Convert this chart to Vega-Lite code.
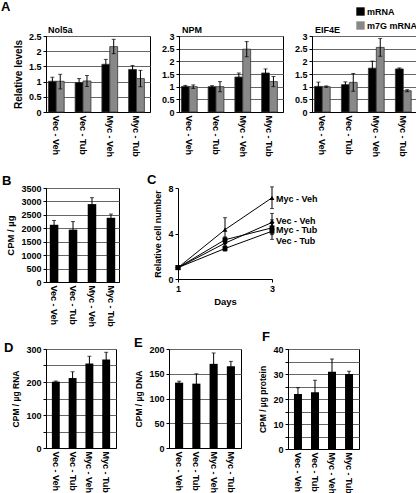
{
  "$schema": "https://vega.github.io/schema/vega-lite/v6.json",
  "padding": {"left": 0, "top": 0, "right": 6, "bottom": 0},
  "datasets": {
    "genes": [
      {"gene": "Nol5a", "cond": "Vec - Veh", "type": "mRNA", "value": 1.01, "lo": 0.89, "hi": 1.14},
      {"gene": "Nol5a", "cond": "Vec - Veh", "type": "m7G mRNA", "value": 1.01, "lo": 0.76, "hi": 1.24},
      {"gene": "Nol5a", "cond": "Vec - Tub", "type": "mRNA", "value": 0.97, "lo": 0.85, "hi": 1.10},
      {"gene": "Nol5a", "cond": "Vec - Tub", "type": "m7G mRNA", "value": 1.02, "lo": 0.84, "hi": 1.20},
      {"gene": "Nol5a", "cond": "Myc - Veh", "type": "mRNA", "value": 1.57, "lo": 1.41, "hi": 1.73},
      {"gene": "Nol5a", "cond": "Myc - Veh", "type": "m7G mRNA", "value": 2.15, "lo": 1.92, "hi": 2.39},
      {"gene": "Nol5a", "cond": "Myc - Tub", "type": "mRNA", "value": 1.40, "lo": 1.27, "hi": 1.53},
      {"gene": "Nol5a", "cond": "Myc - Tub", "type": "m7G mRNA", "value": 1.10, "lo": 0.83, "hi": 1.37},
      {"gene": "NPM", "cond": "Vec - Veh", "type": "mRNA", "value": 1.01, "lo": 0.97, "hi": 1.05},
      {"gene": "NPM", "cond": "Vec - Veh", "type": "m7G mRNA", "value": 1.00, "lo": 0.93, "hi": 1.07},
      {"gene": "NPM", "cond": "Vec - Tub", "type": "mRNA", "value": 1.00, "lo": 0.96, "hi": 1.04},
      {"gene": "NPM", "cond": "Vec - Tub", "type": "m7G mRNA", "value": 1.00, "lo": 0.80, "hi": 1.20},
      {"gene": "NPM", "cond": "Myc - Veh", "type": "mRNA", "value": 1.38, "lo": 1.22, "hi": 1.54},
      {"gene": "NPM", "cond": "Myc - Veh", "type": "m7G mRNA", "value": 2.48, "lo": 2.18, "hi": 2.78},
      {"gene": "NPM", "cond": "Myc - Tub", "type": "mRNA", "value": 1.54, "lo": 1.38, "hi": 1.70},
      {"gene": "NPM", "cond": "Myc - Tub", "type": "m7G mRNA", "value": 1.20, "lo": 1.00, "hi": 1.40},
      {"gene": "EIF4E", "cond": "Vec - Veh", "type": "mRNA", "value": 1.01, "lo": 0.84, "hi": 1.18},
      {"gene": "EIF4E", "cond": "Vec - Veh", "type": "m7G mRNA", "value": 1.00, "lo": 0.97, "hi": 1.03},
      {"gene": "EIF4E", "cond": "Vec - Tub", "type": "mRNA", "value": 1.08, "lo": 0.97, "hi": 1.19},
      {"gene": "EIF4E", "cond": "Vec - Tub", "type": "m7G mRNA", "value": 1.17, "lo": 0.82, "hi": 1.52},
      {"gene": "EIF4E", "cond": "Myc - Veh", "type": "mRNA", "value": 1.73, "lo": 1.45, "hi": 2.01},
      {"gene": "EIF4E", "cond": "Myc - Veh", "type": "m7G mRNA", "value": 2.55, "lo": 2.20, "hi": 2.90},
      {"gene": "EIF4E", "cond": "Myc - Tub", "type": "mRNA", "value": 1.70, "lo": 1.66, "hi": 1.74},
      {"gene": "EIF4E", "cond": "Myc - Tub", "type": "m7G mRNA", "value": 0.84, "lo": 0.80, "hi": 0.88}
    ],
    "single": [
      {"panel": "B", "cond": "Vec - Veh", "value": 2130, "lo": 1970, "hi": 2290},
      {"panel": "B", "cond": "Vec - Tub", "value": 1950, "lo": 1650, "hi": 2250},
      {"panel": "B", "cond": "Myc - Veh", "value": 2900, "lo": 2660, "hi": 3140},
      {"panel": "B", "cond": "Myc - Tub", "value": 2390, "lo": 2250, "hi": 2530},
      {"panel": "D", "cond": "Vec - Veh", "value": 201, "lo": 199, "hi": 203},
      {"panel": "D", "cond": "Vec - Tub", "value": 212, "lo": 193, "hi": 231},
      {"panel": "D", "cond": "Myc - Veh", "value": 256, "lo": 234, "hi": 278},
      {"panel": "D", "cond": "Myc - Tub", "value": 268, "lo": 246, "hi": 290},
      {"panel": "E", "cond": "Vec - Veh", "value": 132, "lo": 129, "hi": 135},
      {"panel": "E", "cond": "Vec - Tub", "value": 130, "lo": 110, "hi": 150},
      {"panel": "E", "cond": "Myc - Veh", "value": 170, "lo": 148, "hi": 192},
      {"panel": "E", "cond": "Myc - Tub", "value": 165, "lo": 155, "hi": 175},
      {"panel": "F", "cond": "Vec - Veh", "value": 22.0, "lo": 19.5, "hi": 24.5},
      {"panel": "F", "cond": "Vec - Tub", "value": 22.7, "lo": 17.9, "hi": 27.5},
      {"panel": "F", "cond": "Myc - Veh", "value": 30.9, "lo": 25.8, "hi": 36.0},
      {"panel": "F", "cond": "Myc - Tub", "value": 30.0, "lo": 29.0, "hi": 31.1}
    ],
    "growth": [
      {"series": "Myc - Veh", "day": 1, "value": 1.0, "lo": null, "hi": null},
      {"series": "Myc - Veh", "day": 2, "value": 4.34, "lo": 3.3, "hi": 5.39},
      {"series": "Myc - Veh", "day": 3, "value": 7.14, "lo": 6.19, "hi": 8.1},
      {"series": "Vec - Veh", "day": 1, "value": 1.0, "lo": null, "hi": null},
      {"series": "Vec - Veh", "day": 2, "value": 3.15, "lo": 2.9, "hi": 3.4},
      {"series": "Vec - Veh", "day": 3, "value": 4.97, "lo": 4.2, "hi": 5.77},
      {"series": "Myc - Tub", "day": 1, "value": 1.0, "lo": null, "hi": null},
      {"series": "Myc - Tub", "day": 2, "value": 3.45, "lo": 3.2, "hi": 3.7},
      {"series": "Myc - Tub", "day": 3, "value": 4.5, "lo": 3.9, "hi": 5.2},
      {"series": "Vec - Tub", "day": 1, "value": 1.0, "lo": null, "hi": null},
      {"series": "Vec - Tub", "day": 2, "value": 2.68, "lo": 2.45, "hi": 2.9},
      {"series": "Vec - Tub", "day": 3, "value": 4.2, "lo": 3.48, "hi": 4.9}
    ],
    "growthLabels": [
      {"series": "Myc - Veh", "pos": 7.05},
      {"series": "Vec - Veh", "pos": 5.13},
      {"series": "Myc - Tub", "pos": 4.27},
      {"series": "Vec - Tub", "pos": 3.38}
    ]
  },
  "config": {
    "font": "Liberation Sans",
    "view": {"stroke": "black", "strokeWidth": 1},
    "axis": {
      "labelFont": "Liberation Sans", "labelFontWeight": "bold", "labelFontSize": 9, "labelColor": "black",
      "titleFont": "Liberation Sans", "titleFontWeight": "bold", "titleFontSize": 9.5, "titleColor": "black",
      "domainColor": "black", "tickColor": "black", "tickSize": 3, "labelPadding": 2, "titlePadding": 5,
      "gridColor": "#666666", "gridWidth": 1, "labelFlush": false
    },
    "axisX": {"grid": false},
    "axisY": {"grid": true},
    "title": {"font": "Liberation Sans", "fontWeight": "bold", "color": "black", "anchor": "start", "frame": "group", "fontSize": 13},
    "legend": {"labelFont": "Liberation Sans"}
  },
  "spacing": 2,
  "vconcat": [
    {
      "spacing": 16,
      "vconcat": [
        {
          "title": {"text": "A", "frame": "bounds", "dx": -12, "offset": 12},
          "spacing": 9,
          "hconcat": [
            {
              "width": 104, "height": 76,
              "title": {"text": "Nol5a", "fontSize": 9, "offset": -3, "dx": 2},
              "data": {"name": "genes"},
              "transform": [{"filter": "datum.gene === 'Nol5a'"}],
              "encoding": {
                "x": {"field": "cond", "type": "nominal", "sort": ["Vec - Veh", "Vec - Tub", "Myc - Veh", "Myc - Tub"], "scale": {"paddingInner": 0.41, "paddingOuter": 0.15, "align": 0.3}, "axis": {"title": null, "labelAngle": 90, "ticks": false, "labelPadding": 3}},
                "xOffset": {"field": "type", "type": "nominal", "sort": ["mRNA", "m7G mRNA"]}
              },
              "layer": [
                {"mark": {"type": "bar", "stroke": "#333333", "strokeWidth": 0.8},
                 "encoding": {
                   "y": {"field": "value", "type": "quantitative", "scale": {"domain": [0, 2.5], "nice": false}, "axis": {"title": "Relative levels", "values": [0, 0.5, 1, 1.5, 2, 2.5], "labelExpr": "'' + datum.value", "titleFontSize": 10}},
                   "color": {"field": "type", "type": "nominal", "scale": {"domain": ["mRNA", "m7G mRNA"], "range": ["#000000", "#888888"]},
                     "legend": {"orient": "none", "legendX": 310, "legendY": -29, "title": null, "symbolType": "square", "symbolSize": 70, "symbolStrokeWidth": 0, "labelFontSize": 9, "labelFontWeight": "bold", "labelColor": "black", "rowPadding": 4, "labelOffset": 2}}
                 }},
                {"mark": {"type": "rule", "color": "black", "strokeWidth": 1}, "encoding": {"y": {"field": "lo", "type": "quantitative", "scale": {"domain": [0, 2.5], "nice": false}, "axis": {"title": "Relative levels", "values": [0, 0.5, 1, 1.5, 2, 2.5], "labelExpr": "'' + datum.value", "titleFontSize": 10}}, "y2": {"field": "hi"}}},
                {"mark": {"type": "tick", "orient": "horizontal", "color": "black", "size": 4, "thickness": 1}, "encoding": {"y": {"field": "hi", "type": "quantitative", "scale": {"domain": [0, 2.5], "nice": false}, "axis": {"title": "Relative levels", "values": [0, 0.5, 1, 1.5, 2, 2.5], "labelExpr": "'' + datum.value", "titleFontSize": 10}}}},
                {"mark": {"type": "tick", "orient": "horizontal", "color": "black", "size": 4, "thickness": 1}, "encoding": {"y": {"field": "lo", "type": "quantitative", "scale": {"domain": [0, 2.5], "nice": false}, "axis": {"title": "Relative levels", "values": [0, 0.5, 1, 1.5, 2, 2.5], "labelExpr": "'' + datum.value", "titleFontSize": 10}}}}
              ]
            },
            {
              "width": 104, "height": 76,
              "title": {"text": "NPM", "fontSize": 9, "offset": -3, "dx": 3},
              "data": {"name": "genes"},
              "transform": [{"filter": "datum.gene === 'NPM'"}],
              "encoding": {
                "x": {"field": "cond", "type": "nominal", "sort": ["Vec - Veh", "Vec - Tub", "Myc - Veh", "Myc - Tub"], "scale": {"paddingInner": 0.41, "paddingOuter": 0.15, "align": 0.3}, "axis": {"title": null, "labelAngle": 90, "ticks": false, "labelPadding": 3}},
                "xOffset": {"field": "type", "type": "nominal", "sort": ["mRNA", "m7G mRNA"]}
              },
              "layer": [
                {"mark": {"type": "bar", "stroke": "#333333", "strokeWidth": 0.8},
                 "encoding": {
                   "y": {"field": "value", "type": "quantitative", "scale": {"domain": [0, 3], "nice": false}, "axis": {"title": null, "values": [0, 0.5, 1, 1.5, 2, 2.5, 3], "labelExpr": "'' + datum.value"}},
                   "color": {"field": "type", "type": "nominal", "scale": {"domain": ["mRNA", "m7G mRNA"], "range": ["#000000", "#888888"]}, "legend": null}
                 }},
                {"mark": {"type": "rule", "color": "black", "strokeWidth": 1}, "encoding": {"y": {"field": "lo", "type": "quantitative", "scale": {"domain": [0, 3], "nice": false}, "axis": {"title": null, "values": [0, 0.5, 1, 1.5, 2, 2.5, 3], "labelExpr": "'' + datum.value"}}, "y2": {"field": "hi"}}},
                {"mark": {"type": "tick", "orient": "horizontal", "color": "black", "size": 4, "thickness": 1}, "encoding": {"y": {"field": "hi", "type": "quantitative", "scale": {"domain": [0, 3], "nice": false}, "axis": {"title": null, "values": [0, 0.5, 1, 1.5, 2, 2.5, 3], "labelExpr": "'' + datum.value"}}}},
                {"mark": {"type": "tick", "orient": "horizontal", "color": "black", "size": 4, "thickness": 1}, "encoding": {"y": {"field": "lo", "type": "quantitative", "scale": {"domain": [0, 3], "nice": false}, "axis": {"title": null, "values": [0, 0.5, 1, 1.5, 2, 2.5, 3], "labelExpr": "'' + datum.value"}}}}
              ]
            },
            {
              "width": 105, "height": 76,
              "title": {"text": "EIF4E", "fontSize": 9, "offset": -3, "dx": 3},
              "data": {"name": "genes"},
              "transform": [{"filter": "datum.gene === 'EIF4E'"}],
              "encoding": {
                "x": {"field": "cond", "type": "nominal", "sort": ["Vec - Veh", "Vec - Tub", "Myc - Veh", "Myc - Tub"], "scale": {"paddingInner": 0.41, "paddingOuter": 0.15, "align": 0.3}, "axis": {"title": null, "labelAngle": 90, "ticks": false, "labelPadding": 3}},
                "xOffset": {"field": "type", "type": "nominal", "sort": ["mRNA", "m7G mRNA"]}
              },
              "layer": [
                {"mark": {"type": "bar", "stroke": "#333333", "strokeWidth": 0.8},
                 "encoding": {
                   "y": {"field": "value", "type": "quantitative", "scale": {"domain": [0, 3], "nice": false}, "axis": {"title": null, "values": [0, 0.5, 1, 1.5, 2, 2.5, 3], "labelExpr": "'' + datum.value"}},
                   "color": {"field": "type", "type": "nominal", "scale": {"domain": ["mRNA", "m7G mRNA"], "range": ["#000000", "#888888"]}, "legend": null}
                 }},
                {"mark": {"type": "rule", "color": "black", "strokeWidth": 1}, "encoding": {"y": {"field": "lo", "type": "quantitative", "scale": {"domain": [0, 3], "nice": false}, "axis": {"title": null, "values": [0, 0.5, 1, 1.5, 2, 2.5, 3], "labelExpr": "'' + datum.value"}}, "y2": {"field": "hi"}}},
                {"mark": {"type": "tick", "orient": "horizontal", "color": "black", "size": 4, "thickness": 1}, "encoding": {"y": {"field": "hi", "type": "quantitative", "scale": {"domain": [0, 3], "nice": false}, "axis": {"title": null, "values": [0, 0.5, 1, 1.5, 2, 2.5, 3], "labelExpr": "'' + datum.value"}}}},
                {"mark": {"type": "tick", "orient": "horizontal", "color": "black", "size": 4, "thickness": 1}, "encoding": {"y": {"field": "lo", "type": "quantitative", "scale": {"domain": [0, 3], "nice": false}, "axis": {"title": null, "values": [0, 0.5, 1, 1.5, 2, 2.5, 3], "labelExpr": "'' + datum.value"}}}}
              ]
            }
          ]
        },
        {
          "spacing": 27,
          "hconcat": [
            {
              "width": 73, "height": 94,
              "title": {"text": "B", "dx": -44, "offset": -4},
              "data": {"name": "single"},
              "transform": [{"filter": "datum.panel === 'B'"}],
              "encoding": {
                "x": {"field": "cond", "type": "nominal", "sort": ["Vec - Veh", "Vec - Tub", "Myc - Veh", "Myc - Tub"], "scale": {"paddingInner": 0.55, "paddingOuter": 0.2}, "axis": {"title": null, "labelAngle": 90, "ticks": false, "labelPadding": 3}}
              },
              "layer": [
                {"mark": {"type": "bar", "color": "black"}, "encoding": {"y": {"field": "value", "type": "quantitative", "scale": {"domain": [0, 3500], "nice": false}, "axis": {"title": "CPM / µg", "values": [0, 500, 1000, 1500, 2000, 2500, 3000, 3500], "labelExpr": "'' + datum.value"}}}},
                {"mark": {"type": "rule", "color": "black", "strokeWidth": 1}, "encoding": {"y": {"field": "lo", "type": "quantitative", "scale": {"domain": [0, 3500], "nice": false}, "axis": {"title": "CPM / µg", "values": [0, 500, 1000, 1500, 2000, 2500, 3000, 3500], "labelExpr": "'' + datum.value"}}, "y2": {"field": "hi"}}},
                {"mark": {"type": "tick", "orient": "horizontal", "color": "black", "size": 4, "thickness": 1}, "encoding": {"y": {"field": "hi", "type": "quantitative", "scale": {"domain": [0, 3500], "nice": false}, "axis": {"title": "CPM / µg", "values": [0, 500, 1000, 1500, 2000, 2500, 3000, 3500], "labelExpr": "'' + datum.value"}}}}
              ]
            },
            {
              "width": 94, "height": 91,
              "title": {"text": "C", "dx": -31, "offset": -3},
              "view": {"stroke": null},
              "layer": [
                {"data": {"name": "growth"}, "mark": {"type": "line", "color": "black", "strokeWidth": 1},
                 "encoding": {
                   "x": {"field": "day", "type": "quantitative", "scale": {"domain": [1, 3]}, "axis": {"title": "Days", "values": [1, 2, 3], "format": "d", "grid": false, "titlePadding": 3}},
                   "y": {"field": "value", "type": "quantitative", "scale": {"domain": [0, 8]}, "axis": {"title": "Relative cell number", "values": [0, 2, 4, 6, 8], "grid": false, "titleFontSize": 9}},
                   "detail": {"field": "series"}
                 }},
                {"data": {"name": "growth"}, "mark": {"type": "rule", "color": "black", "strokeWidth": 1},
                 "encoding": {"x": {"field": "day", "type": "quantitative"}, "y": {"field": "lo", "type": "quantitative"}, "y2": {"field": "hi"}}},
                {"data": {"name": "growth"}, "mark": {"type": "tick", "orient": "horizontal", "color": "black", "size": 4, "thickness": 1},
                 "encoding": {"x": {"field": "day", "type": "quantitative"}, "y": {"field": "hi", "type": "quantitative"}}},
                {"data": {"name": "growth"}, "mark": {"type": "tick", "orient": "horizontal", "color": "black", "size": 4, "thickness": 1},
                 "encoding": {"x": {"field": "day", "type": "quantitative"}, "y": {"field": "lo", "type": "quantitative"}}},
                {"data": {"name": "growth"}, "mark": {"type": "point", "filled": true, "color": "black", "opacity": 1, "size": 24},
                 "encoding": {"x": {"field": "day", "type": "quantitative"}, "y": {"field": "value", "type": "quantitative"},
                   "shape": {"field": "series", "type": "nominal", "scale": {"domain": ["Myc - Veh", "Vec - Veh", "Myc - Tub", "Vec - Tub"], "range": ["triangle-up", "diamond", "square", "square"]}, "legend": null}}},
                {"data": {"name": "growthLabels"}, "mark": {"type": "text", "align": "left", "baseline": "middle", "dx": 4, "fontWeight": "bold", "fontSize": 9, "font": "Liberation Sans", "color": "black"},
                 "encoding": {"x": {"datum": 3, "type": "quantitative"}, "y": {"field": "pos", "type": "quantitative"}, "text": {"field": "series"}}}
              ]
            }
          ]
        }
      ]
    },
    {
      "spacing": 16,
      "hconcat": [
        {
          "width": 70, "height": 99,
          "title": {"text": "D", "dx": -42, "offset": -10},
          "data": {"name": "single"},
          "transform": [{"filter": "datum.panel === 'D'"}],
          "encoding": {
            "x": {"field": "cond", "type": "nominal", "sort": ["Vec - Veh", "Vec - Tub", "Myc - Veh", "Myc - Tub"], "scale": {"paddingInner": 0.53, "paddingOuter": 0.35}, "axis": {"title": null, "labelAngle": 90, "ticks": false, "labelPadding": 3}}
          },
          "layer": [
            {"mark": {"type": "bar", "color": "black"}, "encoding": {"y": {"field": "value", "type": "quantitative", "scale": {"domain": [0, 300], "nice": false}, "axis": {"title": "CPM / µg RNA", "titleFontSize": 8.5, "values": [0, 50, 100, 150, 200, 250, 300], "labelExpr": "datum.value % 100 === 0 ? '' + datum.value : ''"}}}},
            {"mark": {"type": "rule", "color": "black", "strokeWidth": 1}, "encoding": {"y": {"field": "lo", "type": "quantitative", "scale": {"domain": [0, 300], "nice": false}, "axis": {"title": "CPM / µg RNA", "titleFontSize": 8.5, "values": [0, 50, 100, 150, 200, 250, 300], "labelExpr": "datum.value % 100 === 0 ? '' + datum.value : ''"}}, "y2": {"field": "hi"}}},
            {"mark": {"type": "tick", "orient": "horizontal", "color": "black", "size": 4, "thickness": 1}, "encoding": {"y": {"field": "hi", "type": "quantitative", "scale": {"domain": [0, 300], "nice": false}, "axis": {"title": "CPM / µg RNA", "titleFontSize": 8.5, "values": [0, 50, 100, 150, 200, 250, 300], "labelExpr": "datum.value % 100 === 0 ? '' + datum.value : ''"}}}}
          ]
        },
        {
          "width": 72, "height": 99,
          "title": {"text": "E", "dx": -35, "offset": -5},
          "data": {"name": "single"},
          "transform": [{"filter": "datum.panel === 'E'"}],
          "encoding": {
            "x": {"field": "cond", "type": "nominal", "sort": ["Vec - Veh", "Vec - Tub", "Myc - Veh", "Myc - Tub"], "scale": {"paddingInner": 0.53, "paddingOuter": 0.35}, "axis": {"title": null, "labelAngle": 90, "ticks": false, "labelPadding": 3}}
          },
          "layer": [
            {"mark": {"type": "bar", "color": "black"}, "encoding": {"y": {"field": "value", "type": "quantitative", "scale": {"domain": [0, 200], "nice": false}, "axis": {"title": "CPM / µg DNA", "titleFontSize": 8.5, "values": [0, 50, 100, 150, 200], "labelExpr": "'' + datum.value"}}}},
            {"mark": {"type": "rule", "color": "black", "strokeWidth": 1}, "encoding": {"y": {"field": "lo", "type": "quantitative", "scale": {"domain": [0, 200], "nice": false}, "axis": {"title": "CPM / µg DNA", "titleFontSize": 8.5, "values": [0, 50, 100, 150, 200], "labelExpr": "'' + datum.value"}}, "y2": {"field": "hi"}}},
            {"mark": {"type": "tick", "orient": "horizontal", "color": "black", "size": 4, "thickness": 1}, "encoding": {"y": {"field": "hi", "type": "quantitative", "scale": {"domain": [0, 200], "nice": false}, "axis": {"title": "CPM / µg DNA", "titleFontSize": 8.5, "values": [0, 50, 100, 150, 200], "labelExpr": "'' + datum.value"}}}}
          ]
        },
        {
          "width": 71, "height": 100,
          "title": {"text": "F", "dx": -26, "offset": 1},
          "data": {"name": "single"},
          "transform": [{"filter": "datum.panel === 'F'"}],
          "encoding": {
            "x": {"field": "cond", "type": "nominal", "sort": ["Vec - Veh", "Vec - Tub", "Myc - Veh", "Myc - Tub"], "scale": {"paddingInner": 0.53, "paddingOuter": 0.35}, "axis": {"title": null, "labelAngle": 90, "ticks": false, "labelPadding": 3}}
          },
          "layer": [
            {"mark": {"type": "bar", "color": "black"}, "encoding": {"y": {"field": "value", "type": "quantitative", "scale": {"domain": [0, 40], "nice": false}, "axis": {"title": "CPM / µg protein", "titleFontSize": 8.5, "values": [0, 5, 10, 15, 20, 25, 30, 35, 40], "labelExpr": "datum.value % 10 === 0 ? '' + datum.value : ''"}}}},
            {"mark": {"type": "rule", "color": "black", "strokeWidth": 1}, "encoding": {"y": {"field": "lo", "type": "quantitative", "scale": {"domain": [0, 40], "nice": false}, "axis": {"title": "CPM / µg protein", "titleFontSize": 8.5, "values": [0, 5, 10, 15, 20, 25, 30, 35, 40], "labelExpr": "datum.value % 10 === 0 ? '' + datum.value : ''"}}, "y2": {"field": "hi"}}},
            {"mark": {"type": "tick", "orient": "horizontal", "color": "black", "size": 4, "thickness": 1}, "encoding": {"y": {"field": "hi", "type": "quantitative", "scale": {"domain": [0, 40], "nice": false}, "axis": {"title": "CPM / µg protein", "titleFontSize": 8.5, "values": [0, 5, 10, 15, 20, 25, 30, 35, 40], "labelExpr": "datum.value % 10 === 0 ? '' + datum.value : ''"}}}}
          ]
        }
      ]
    }
  ]
}
